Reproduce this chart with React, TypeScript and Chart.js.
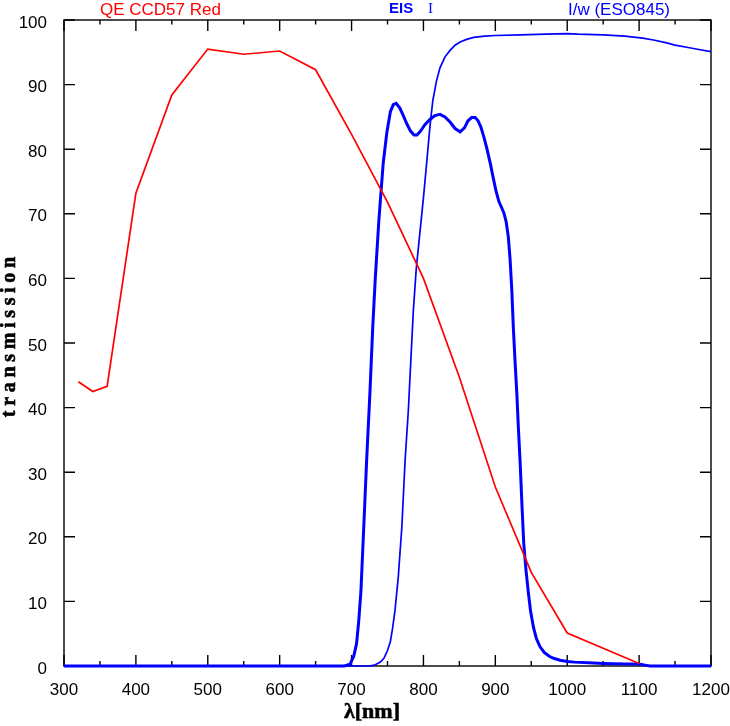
import React, { useEffect, useRef } from "react";
import { Chart, registerables } from "chart.js";

Chart.register(...registerables);

// QE CCD57 Red (red curve)
const qeLambda = [320, 340, 360, 400, 450, 500, 550, 600, 650, 700, 750, 800, 850, 900, 950, 1000, 1100];
const qeValue = [44.0, 42.5, 43.3, 73.2, 88.4, 95.5, 94.7, 95.2, 92.3, 82.3, 71.8, 60.0, 44.7, 27.7, 14.5, 5.1, 0.4];

// EIS I filter (thick blue curve)
const eisLambda = [
  300, 690, 698, 703, 707, 710, 713, 717, 721, 725.5, 729.5, 733, 738, 744, 749, 754, 758, 762, 767, 772,
  777, 782, 787, 791, 796, 802, 809, 816, 823, 830, 837, 844, 851, 857, 862, 867, 872, 876, 880, 884,
  888, 893, 897, 901, 905, 909, 912, 915, 918, 920.5, 923, 925, 927.5, 930, 932, 934.5, 937, 939.5, 942.5, 946,
  949, 953, 957, 962, 968, 975, 981, 990, 1000, 1010, 1030, 1050, 1080, 1100, 1110, 1115, 1200,
];
const eisValue = [
  0, 0, 0.3, 1.5, 3.5, 7, 11.5, 21.6, 31.9, 42.2, 52.5, 60, 69, 77.8, 82.5, 85.8, 86.9, 87.1, 86.4, 85.2,
  83.9, 82.8, 82.2, 82.2, 82.8, 83.8, 84.6, 85.2, 85.4, 85.0, 84.2, 83.2, 82.7, 83.3, 84.4, 84.9, 84.9, 84.4, 83.4, 81.9,
  80.2, 77.8, 75.6, 73.5, 71.9, 70.9, 70.1, 68.8, 66.5, 63, 58, 52.5, 47, 42, 37, 31.5, 25, 19, 15, 11.3,
  8.5, 6, 4.3, 3, 2.1, 1.5, 1.2, 0.9, 0.7, 0.6, 0.5, 0.4, 0.3, 0.3, 0.1, 0, 0,
];

// I/w (ESO845) filter (thin blue curve)
const iwLambda = [
  300, 725, 733, 740, 745, 750, 754, 757, 760.5, 765, 770, 774.5, 779, 782.5, 786, 790, 795, 800, 805, 809,
  813, 818, 823, 830, 837, 844, 851, 860, 870, 885, 900, 935, 970, 1000, 1015, 1050, 1080, 1105, 1120, 1137,
  1150, 1170, 1185, 1200,
];
const iwValue = [
  0, 0, 0.2, 0.6, 1.2, 2.4, 3.8, 5.8, 8.7, 13.8, 21.6, 31.9, 39.6, 47.4, 55.1, 61.5, 67, 72.5, 78.5, 83.5,
  87.5, 90.5, 92.6, 94.3, 95.3, 96.1, 96.6, 97.0, 97.3, 97.5, 97.6, 97.7, 97.8, 97.9, 97.8, 97.7, 97.5, 97.2, 96.9, 96.5,
  96.1, 95.7, 95.4, 95.1,
];

const xMajorTicks = [300, 400, 500, 600, 700, 800, 900, 1000, 1100, 1200];
const xMinorTicks = [350, 450, 550, 650, 750, 850, 950, 1050, 1150];
const yTicks = [0, 10, 20, 30, 40, 50, 60, 70, 80, 90, 100];

const qeLabel = "QE CCD57 Red";
const eisLabelA = "EIS";
const eisLabelB = "I";
const iwLabel = "I/w (ESO845)";
const xTitle = "λ[nm]";
const yTitle = "transmission";

const toPoints = (xs: number[], ys: number[]) => xs.map((x, i) => ({ x, y: ys[i] }));

const framePlugin = {
  id: "frame",
  beforeDatasetsDraw(chart: any) {
    const { ctx, chartArea, scales } = chart;
    const { left, right, top, bottom } = chartArea;
    const xs = scales.x;
    const ys = scales.y;
    ctx.save();
    ctx.strokeStyle = "#000";
    ctx.lineWidth = 1.4;
    ctx.strokeRect(left, top, right - left, bottom - top);
    ctx.beginPath();
    for (const v of xMajorTicks) {
      const px = xs.getPixelForValue(v);
      ctx.moveTo(px, bottom);
      ctx.lineTo(px, bottom - 11);
      ctx.moveTo(px, top);
      ctx.lineTo(px, top + 11);
    }
    for (const v of xMinorTicks) {
      const px = xs.getPixelForValue(v);
      ctx.moveTo(px, bottom);
      ctx.lineTo(px, bottom - 5);
      ctx.moveTo(px, top);
      ctx.lineTo(px, top + 4.5);
    }
    for (const v of yTicks) {
      const py = ys.getPixelForValue(v);
      ctx.moveTo(left, py);
      ctx.lineTo(left + 11, py);
      ctx.moveTo(right, py);
      ctx.lineTo(right - 11, py);
    }
    ctx.stroke();
    ctx.restore();
  },
};

const textPlugin = {
  id: "texts",
  afterDraw(chart: any) {
    const { ctx, chartArea } = chart;
    const { top, bottom } = chartArea;
    ctx.save();
    ctx.textBaseline = "alphabetic";
    ctx.textAlign = "left";

    ctx.fillStyle = "#ff0000";
    ctx.font = "17px 'Liberation Sans', Arial, sans-serif";
    ctx.fillText(qeLabel, 100, 15);

    ctx.fillStyle = "#0000ff";
    ctx.font = "bold 15px 'Liberation Sans', Arial, sans-serif";
    ctx.fillText(eisLabelA, 389, 12.5);
    ctx.font = "15px 'Liberation Serif', serif";
    ctx.fillText(eisLabelB, 428, 12.5);

    ctx.font = "17px 'Liberation Sans', Arial, sans-serif";
    ctx.fillText(iwLabel, 568, 15);

    // x title
    ctx.fillStyle = "#000";
    ctx.strokeStyle = "#000";
    ctx.lineWidth = 0.6;
    ctx.font = "bold 22px 'Liberation Serif', serif";
    ctx.textAlign = "center";
    ctx.fillText(xTitle, 372, 718);
    ctx.strokeText(xTitle, 372, 718);

    // y title (spaced letters)
    ctx.font = "bold 20px 'Liberation Serif', serif";
    const plain = ctx.measureText(yTitle).width;
    const spacing = Math.max(0, (165 - plain) / yTitle.length);
    (ctx as any).letterSpacing = spacing.toFixed(2) + "px";
    ctx.translate(15, (top + bottom) / 2 - 6);
    ctx.rotate(-Math.PI / 2);
    ctx.textAlign = "left";
    const w = ctx.measureText(yTitle).width;
    ctx.fillText(yTitle, -w / 2 + spacing / 2, 0);
    ctx.strokeText(yTitle, -w / 2 + spacing / 2, 0);
    ctx.restore();
  },
};

export default function App() {
  const canvasRef = useRef<HTMLCanvasElement | null>(null);

  useEffect(() => {
    document.body.style.margin = "0";
    const canvas = canvasRef.current;
    if (!canvas) return;
    const tickFont = { family: "'Liberation Sans', Arial, sans-serif", size: 17 };
    const chart = new Chart(canvas, {
      type: "line",
      data: {
        datasets: [
          {
            label: qeLabel,
            data: toPoints(qeLambda, qeValue),
            borderColor: "#ff0000",
            borderWidth: 1.7,
            pointRadius: 0,
            tension: 0,
            clip: false as any,
          },
          {
            label: iwLabel,
            data: toPoints(iwLambda, iwValue),
            borderColor: "#0000ff",
            borderWidth: 1.7,
            pointRadius: 0,
            tension: 0,
            clip: false as any,
          },
          {
            label: eisLabelA + " " + eisLabelB,
            data: toPoints(eisLambda, eisValue),
            borderColor: "#0000ff",
            borderWidth: 3,
            pointRadius: 0,
            tension: 0,
            clip: false as any,
          },
        ],
      },
      options: {
        animation: false,
        responsive: false,
        events: [],
        layout: { autoPadding: false, padding: { top: 20, right: 19, left: 0, bottom: 0 } },
        plugins: {
          legend: { display: false },
          tooltip: { enabled: false },
          title: { display: false },
        },
        scales: {
          x: {
            type: "linear",
            min: 300,
            max: 1200,
            grid: { display: false },
            border: { display: false },
            ticks: {
              stepSize: 100,
              color: "#000",
              padding: 6,
              maxRotation: 0,
              autoSkip: false,
              font: tickFont,
              callback: (v: any) => String(v),
            },
            afterFit(scale: any) {
              scale.height = 60;
              scale.paddingLeft = 0;
              scale.paddingRight = 0;
            },
          },
          y: {
            type: "linear",
            min: 0,
            max: 100,
            grid: { display: false },
            border: { display: false },
            ticks: {
              stepSize: 10,
              color: "#000",
              padding: 9,
              labelOffset: 3,
              autoSkip: false,
              font: tickFont,
              callback: (v: any) => String(v),
            },
            afterFit(scale: any) {
              scale.width = 64;
              scale.paddingTop = 0;
              scale.paddingBottom = 0;
            },
          },
        },
      },
      plugins: [framePlugin, textPlugin],
    });
    return () => chart.destroy();
  }, []);

  return (
    <div style={{ width: 730, height: 726, background: "#fff" }}>
      <canvas ref={canvasRef} width={730} height={726} style={{ display: "block", width: 730, height: 726 }} />
    </div>
  );
}
